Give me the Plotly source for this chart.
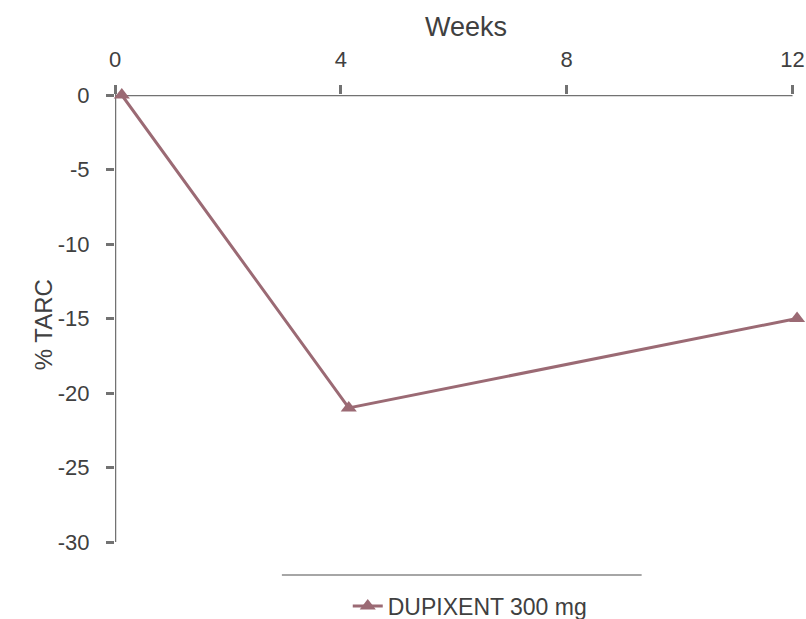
import plotly.graph_objects as go

weeks = [0.12, 4.14, 12.08]
tarc_pct = [0, -21.0, -15.0]
series_name = "DUPIXENT 300 mg"
x_ticks = [0, 4, 8, 12]
y_ticks = [0, -5, -10, -15, -20, -25, -30]

line_color = "#9b6a74"
axis_color = "#727272"
text_color = "#404040"

W, H = 806, 619
L, T, B = 115, 95, 77
PX_PER_WEEK = 56.5
X_MAX = 12.15
PW = X_MAX * PX_PER_WEEK
R = W - L - PW
PH = H - T - B

fig = go.Figure()
fig.add_trace(go.Scatter(
    x=weeks, y=tarc_pct, mode="lines+markers", name=series_name,
    line=dict(color=line_color, width=3),
    marker=dict(symbol="triangle-up", size=14, color=line_color),
    cliponaxis=False,
))

fig.update_layout(
    width=W, height=H,
    margin=dict(l=L, r=R, t=T, b=B),
    paper_bgcolor="white", plot_bgcolor="white",
    font=dict(family="Liberation Sans, Arial, sans-serif", size=22, color=text_color),
    showlegend=True,
    legend=dict(orientation="h", x=(470 - L) / PW, xanchor="center", yref="container",
                y=1 - 606 / H, yanchor="middle",
                font=dict(size=23, color=text_color)),
    xaxis=dict(side="top", range=[0, X_MAX], tickvals=x_ticks, ticktext=[str(t) for t in x_ticks],
               showgrid=False, zeroline=False, showline=False,
               ticks="outside", ticklen=9, tickwidth=2.5, tickcolor=axis_color,
               ticklabelstandoff=9, automargin=False,
               tickfont=dict(size=22, color=text_color)),
    yaxis=dict(range=[-30, 0], tickvals=y_ticks, ticktext=[str(t) for t in y_ticks],
               showgrid=False, zeroline=False, showline=False,
               ticks="outside", ticklen=8, tickwidth=2.5, tickcolor=axis_color,
               ticklabelstandoff=12, automargin=False,
               tickfont=dict(size=22, color=text_color)),
    annotations=[
        dict(text="Weeks", xref="paper", yref="paper", x=(466 - L) / PW,
             y=1 + (T - 27) / PH,
             xanchor="center", yanchor="middle", showarrow=False,
             font=dict(size=27, color=text_color)),
        dict(text="% TARC", xref="paper", yref="paper", x=(43 - L) / PW, y=0.485,
             xanchor="center", yanchor="middle", textangle=-90, showarrow=False,
             font=dict(size=24, color=text_color)),
    ],
    shapes=[
        # top (x) axis line, from first to last tick at y = 0
        dict(type="line", xref="x", yref="y", x0=x_ticks[0], x1=x_ticks[-1], y0=0, y1=0,
             line=dict(color=axis_color, width=2.5), layer="below"),
        # left (y) axis line, running slightly above 0
        dict(type="line", xref="x", yref="paper", x0=x_ticks[0], x1=x_ticks[0],
             y0=0, y1=1 + 10 / PH, line=dict(color=axis_color, width=2.5), layer="below"),
        # separator line above legend
        dict(type="line", xref="paper", yref="paper",
             x0=(282 - L) / PW, x1=(642 - L) / PW,
             y0=(542 - 575) / PH, y1=(542 - 575) / PH,
             line=dict(color="#888888", width=1.5)),
    ],
)

fig.write_html(
    "out.html",
    config={"displayModeBar": False},
    post_script="document.body.style.margin='0';document.body.style.overflow='hidden';",
)
